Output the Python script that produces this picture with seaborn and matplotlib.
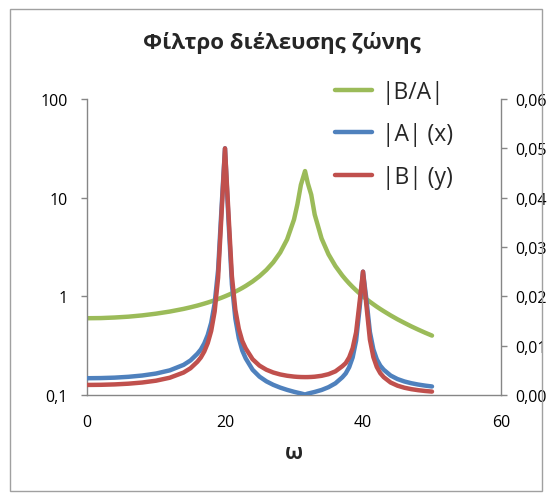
import pandas as pd
import matplotlib.pyplot as plt
import seaborn as sns
from matplotlib.patches import Rectangle
from matplotlib.lines import Line2D

# Δεδομένα (τιμές διαβασμένες από το γράφημα)
omega = [0, 2, 4, 6, 8, 10, 12, 14, 15, 16, 16.5, 17, 17.5, 18, 18.5, 19, 19.5, 20,
         20.5, 21, 21.5, 22, 22.5, 23, 24, 25, 26, 27, 28, 29, 30, 30.5, 31, 31.6,
         32, 32.5, 33, 34, 35, 36, 37, 37.5, 38, 38.5, 39, 39.5, 40, 40.5, 41, 41.5,
         42, 42.5, 43, 44, 45, 46, 47, 48, 49, 50]

ratio_ba = [0.600, 0.602, 0.610, 0.622, 0.641, 0.667, 0.701, 0.746, 0.774, 0.806,
            0.8245, 0.844, 0.8649, 0.888, 0.912, 0.939, 0.968, 1.000, 1.035, 1.073,
            1.116, 1.163, 1.2152, 1.274, 1.415, 1.600, 1.852, 2.214, 2.778, 3.774,
            6.0, 8.6, 13.5, 18.6, 14.0, 10.7, 6.74, 3.85, 2.667, 2.027, 1.626, 1.477,
            1.351, 1.244, 1.152, 1.071, 1.000, 0.937, 0.881, 0.831, 0.785, 0.7442,
            0.707, 0.641, 0.585, 0.538, 0.496, 0.460, 0.428, 0.400]

amp_a = [0.00340, 0.003432, 0.003518, 0.003686, 0.003947, 0.004349, 0.004997,
         0.006110, 0.007010, 0.008370, 0.00923, 0.01046, 0.01217, 0.01464, 0.01855,
         0.02531, 0.03796, 0.0500, 0.03564, 0.02244, 0.01549, 0.01153, 0.00902,
         0.00742, 0.00512, 0.00372, 0.002765, 0.002058, 0.00150, 0.00104, 0.00065,
         0.00048, 0.00032, 0.0001, 0.00028, 0.00045, 0.00062, 0.00102, 0.001583,
         0.002365, 0.003587, 0.00438, 0.005646, 0.00762, 0.01103, 0.0175, 0.0250,
         0.01928, 0.01276, 0.00926, 0.00723, 0.005953, 0.005121, 0.003947, 0.003229,
         0.002742, 0.002388, 0.002117, 0.001903, 0.001728]

amp_b = [0.00204, 0.002066, 0.002146, 0.002293, 0.00253, 0.002901, 0.003503,
         0.004558, 0.005426, 0.006746, 0.00761, 0.00883, 0.01052, 0.0130, 0.01692,
         0.02377, 0.03675, 0.0500, 0.03689, 0.02408, 0.01729, 0.01341, 0.01096,
         0.00945, 0.007244, 0.005952, 0.00512, 0.004556, 0.004167, 0.003901,
         0.00373, 0.003676, 0.003642, 0.003627, 0.003632, 0.003659, 0.003708,
         0.00389, 0.00422, 0.004793, 0.005833, 0.006469, 0.00763, 0.00948, 0.0127,
         0.01874, 0.0250, 0.01807, 0.01124, 0.00769, 0.00568, 0.00443, 0.003619,
         0.00253, 0.00189, 0.001474, 0.001185, 0.000974, 0.000815, 0.000691]

left_ticks = [0.1, 1, 10, 100]
left_labels = ["0,1", "1", "10", "100"]
right_ticks = [0.0, 0.01, 0.02, 0.03, 0.04, 0.05, 0.06]
right_labels = ["0,00", "0,01", "0,02", "0,03", "0,04", "0,05", "0,06"]
x_ticks = [0, 20, 40, 60]

labels = ["|B/A|", "|A| (x)", "|B| (y)"]
colors = ["#9BBB59", "#4F81BD", "#C0504D"]

df = pd.DataFrame({"omega": omega, "ba": ratio_ba, "a": amp_a, "b": amp_b})

sns.set_style("white")
plt.rcParams['font.family'] = ['Open Sans', 'DejaVu Sans']

fig = plt.figure(figsize=(5.52, 5.02), dpi=100)
fig.patches.append(Rectangle((10 / 552, 10 / 502), 532 / 552, 482 / 502,
                             transform=fig.transFigure, fill=False,
                             edgecolor="#a0a0a0", linewidth=1.0))

ax = fig.add_axes([87 / 552, 1 - 396 / 502, 414 / 552, 296 / 502])
ax2 = ax.twinx()

lw = 3.2
line_kw = dict(linewidth=lw, solid_capstyle="round", solid_joinstyle="round")
sns.lineplot(data=df, x="omega", y="ba", ax=ax, color=colors[0], sort=False, **line_kw)
sns.lineplot(data=df, x="omega", y="a", ax=ax2, color=colors[1], sort=False, **line_kw)
sns.lineplot(data=df, x="omega", y="b", ax=ax2, color=colors[2], sort=False, **line_kw)

ax.set_yscale("log")
ax.set_ylim(0.1, 100)
ax.set_yticks(left_ticks)
ax.set_yticklabels(left_labels)
ax.minorticks_off()
ax.set_xlim(0, 60)
ax.set_xticks(x_ticks)
ax2.set_ylim(0, 0.06)
ax2.set_yticks(right_ticks)
ax2.set_yticklabels(right_labels)

spine_c = "#868686"
for a in (ax, ax2):
    for s in a.spines.values():
        s.set_visible(False)
    a.tick_params(direction="out", length=4, width=1, color=spine_c,
                  labelsize=11.5, labelcolor="black", pad=6)
    a.set_ylabel("")
ax.tick_params(axis="y", pad=10)
ax.tick_params(axis="x", pad=10)
ax.spines["left"].set_visible(True)
ax.spines["bottom"].set_visible(True)
ax2.spines["right"].set_visible(True)
for s in (ax.spines["left"], ax.spines["bottom"], ax2.spines["right"]):
    s.set_color(spine_c)
    s.set_linewidth(1)

ax.set_xlabel("ω", fontsize=15, fontweight="bold", labelpad=8)

fig.text(282 / 552, 1 - 43 / 502, "Φίλτρο διέλευσης ζώνης", ha="center", va="center",
         fontsize=16, fontweight="bold")

handles = [Line2D([], [], color=c, linewidth=lw) for c in colors]
fig.legend(handles, labels, loc="upper left", bbox_to_anchor=(335 / 552, 1 - 81 / 502),
           frameon=False, fontsize=16.5, handlelength=1.6, handletextpad=0.45,
           labelspacing=0.8, borderpad=0, borderaxespad=0)

fig.savefig("out.png", dpi=100)
